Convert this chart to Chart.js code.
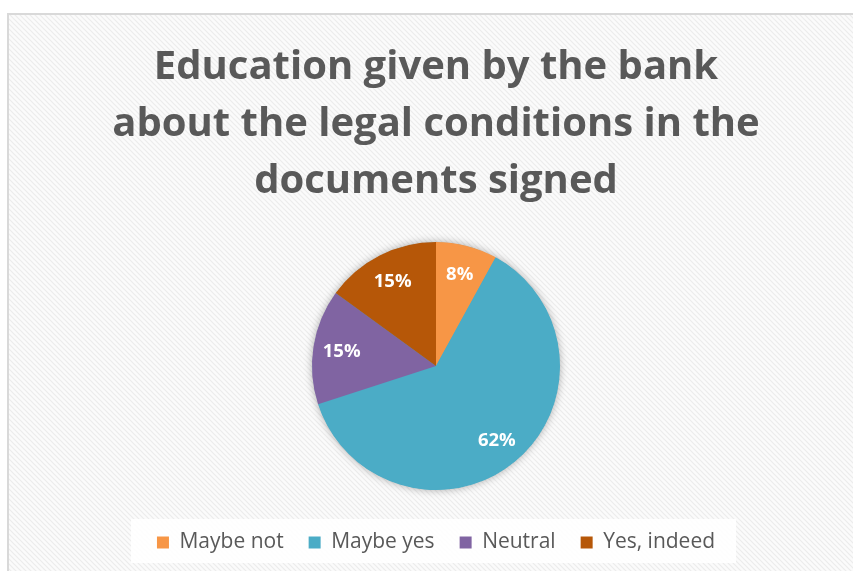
<!DOCTYPE html>
<html>
<head>
<meta charset="utf-8">
<script src="https://cdn.jsdelivr.net/npm/chart.js@4.4.1/dist/chart.umd.min.js"></script>
<style>
  html, body { margin: 0; padding: 0; background: #fff; }
  #c { display: block; }
</style>
</head>
<body>
<canvas id="c" width="853" height="571"></canvas>
<script>
// Chart content
const titleLines = ['Education given by the bank', 'about the legal conditions in the', 'documents signed'];
const categories = ['Maybe not', 'Maybe yes', 'Neutral', 'Yes, indeed'];
const shares = [8, 62, 15, 15];
const sliceColors = ['#F79646', '#4BACC6', '#8064A2', '#B65708'];

// Striped panel with a thin grey frame on its top and left edges
const panelBackground = {
  id: 'panelBackground',
  beforeDraw(chart) {
    const ctx = chart.ctx;
    const W = chart.width, H = chart.height;
    ctx.save();
    ctx.fillStyle = '#ffffff';
    ctx.fillRect(0, 0, W, H);

    const s = 5;
    const tile = document.createElement('canvas');
    tile.width = s; tile.height = s;
    const tc = tile.getContext('2d');
    tc.fillStyle = '#fbfbfb';
    tc.fillRect(0, 0, s, s);
    tc.strokeStyle = '#ececec';
    tc.lineWidth = 1.2;
    tc.beginPath();
    tc.moveTo(-1, -1); tc.lineTo(s + 1, s + 1);
    tc.moveTo(-1, s - 1); tc.lineTo(1, s + 1);
    tc.moveTo(s - 1, -1); tc.lineTo(s + 1, 1);
    tc.stroke();
    ctx.fillStyle = ctx.createPattern(tile, 'repeat');
    ctx.fillRect(9, 15, W - 9, H - 15);

    ctx.fillStyle = '#d9d9d9';
    ctx.fillRect(7, 13, W - 7, 2);
    ctx.fillRect(7, 13, 2, H - 13);

    // light box behind the legend row
    const lg = chart.legend;
    if (lg && lg.legendHitBoxes && lg.legendHitBoxes.length) {
      const hb = lg.legendHitBoxes;
      const first = hb[0], last = hb[hb.length - 1];
      ctx.fillStyle = 'rgba(255,255,255,0.9)';
      ctx.fillRect(first.left - 26, 519, (last.left + last.width + 21) - (first.left - 26), 44);
    }
    ctx.restore();
  }
};

// Soft shadow under the pie
const pieShadow = {
  id: 'pieShadow',
  beforeDatasetsDraw(chart) {
    const arc = chart.getDatasetMeta(0).data[0];
    if (!arc) return;
    const { x, y, outerRadius } = arc.getProps(['x', 'y', 'outerRadius'], true);
    const ctx = chart.ctx;
    ctx.save();
    ctx.shadowColor = 'rgba(0,0,0,0.35)';
    ctx.shadowBlur = 9;
    ctx.fillStyle = '#4BACC6';
    ctx.beginPath();
    ctx.arc(x, y, outerRadius - 0.5, 0, Math.PI * 2);
    ctx.fill();
    ctx.restore();
  }
};

// Percentage labels inside each slice
const sliceLabels = {
  id: 'sliceLabels',
  afterDatasetsDraw(chart) {
    const ctx = chart.ctx;
    const meta = chart.getDatasetMeta(0);
    ctx.save();
    ctx.fillStyle = '#ffffff';
    ctx.font = 'bold 18.5px "Open Sans"';
    ctx.textAlign = 'center';
    ctx.textBaseline = 'middle';
    meta.data.forEach((arc, i) => {
      const p = arc.getProps(['x', 'y', 'startAngle', 'endAngle', 'outerRadius'], true);
      const mid = (p.startAngle + p.endAngle) / 2;
      const r = p.outerRadius * 0.77;
      ctx.fillText(shares[i] + '%', p.x + Math.cos(mid) * r, p.y + Math.sin(mid) * r + 1);
    });
    ctx.restore();
  }
};

new Chart(document.getElementById('c'), {
  type: 'pie',
  data: {
    labels: categories,
    datasets: [{
      data: shares,
      backgroundColor: sliceColors,
      borderWidth: 0,
      hoverOffset: 0
    }]
  },
  options: {
    responsive: false,
    animation: false,
    events: [],
    layout: { padding: { left: 19, right: 0, top: 0, bottom: 8 } },
    plugins: {
      title: {
        display: true,
        text: titleLines,
        color: '#595959',
        font: { family: '"Open Sans"', size: 40, weight: 'bold', lineHeight: 57 / 40 },
        padding: { top: 39, bottom: 32 }
      },
      legend: {
        position: 'bottom',
        labels: {
          color: '#595959',
          font: { family: '"Open Sans"', size: 21 },
          boxWidth: 12,
          boxHeight: 12,
          padding: 25
        },
        title: { display: true, text: '', font: { size: 5, lineHeight: 1.2 }, padding: { top: 11, bottom: 0 } }
      },
      tooltip: { enabled: false }
    }
  },
  plugins: [panelBackground, pieShadow, sliceLabels]
});
</script>
</body>
</html>
